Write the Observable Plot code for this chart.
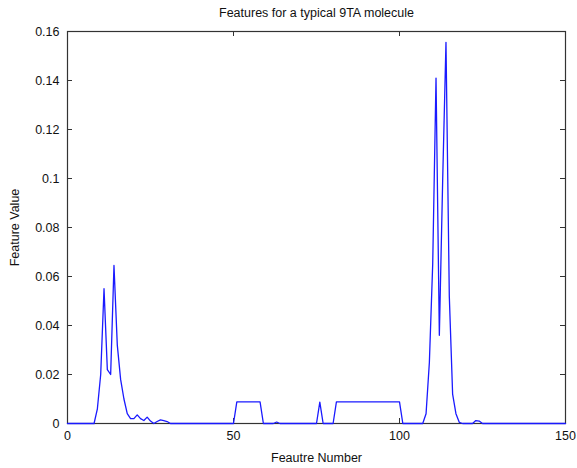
<!DOCTYPE html>
<html>
<head>
<meta charset="utf-8">
<script src="https://cdn.jsdelivr.net/npm/d3@7"></script>
<script src="https://cdn.jsdelivr.net/npm/@observablehq/plot@0.6"></script>
<style>
  html, body { margin: 0; padding: 0; background: #fff; }
</style>
</head>
<body>
<div id="chart"></div>
<script>
// Feature numbers where the value changes (straight segments in between)
const featureNumber = [0, 8, 9, 10, 11, 12, 13, 14, 15, 16, 17, 18, 19, 20, 21, 22, 23, 24, 25, 26, 27, 28, 29, 30, 31,
  50, 51, 58, 59, 62, 63, 64, 75, 76, 77, 80, 81, 100, 101,
  107, 108, 109, 110, 111, 112, 113, 114, 115, 116, 117, 118, 119, 122, 123, 124, 125, 150];
const featureValue = [0, 0, 0.006, 0.02, 0.055, 0.022, 0.02, 0.0645, 0.032, 0.018, 0.01, 0.004, 0.002, 0.002, 0.0035, 0.002, 0.0012, 0.0026, 0.001, 0, 0.0008, 0.0015, 0.0012, 0.0008, 0,
  0, 0.0088, 0.0088, 0, 0, 0.0006, 0, 0, 0.0087, 0, 0, 0.0088, 0.0088, 0,
  0, 0.004, 0.025, 0.065, 0.141, 0.036, 0.099, 0.1556, 0.052, 0.012, 0.004, 0.0005, 0, 0, 0.0012, 0.001, 0, 0];
const xTicks = [0, 50, 100, 150];
const yTicks = [0, 0.02, 0.04, 0.06, 0.08, 0.1, 0.12, 0.14, 0.16];
const title = "Features for a typical 9TA molecule";
const xLabel = "Feautre Number";
const yLabel = "Feature Value";

const data = featureNumber.map((f, i) => ({f, v: featureValue[i]}));

const W = 577, H = 468, mL = 67, mR = 12, mT = 31, mB = 45;
const plotW = W - mL - mR, plotH = H - mT - mB, tk = 5;
const axisColor = "#333";

const chart = Plot.plot({
  width: W, height: H,
  marginLeft: mL, marginRight: mR, marginTop: mT, marginBottom: mB,
  style: {fontFamily: "'Liberation Sans', Arial, Helvetica, sans-serif", fontSize: "12px", background: "#fff", color: "#111", overflow: "visible"},
  x: {domain: [0, 150]},
  y: {domain: [0, 0.16]},
  marks: [
    Plot.axisX(xTicks, {tickSize: 0, tickPadding: 8, label: null, fontSize: 12.5, tickFormat: d => String(d)}),
    Plot.axisY(yTicks, {tickSize: 0, tickPadding: 8, label: null, fontSize: 12.5, tickFormat: d => String(d)}),
    Plot.frame({stroke: axisColor, strokeWidth: 1.2}),
    Plot.tickX(xTicks, {x: d => d, insetTop: plotH - tk, stroke: axisColor}),
    Plot.tickX(xTicks, {x: d => d, insetBottom: plotH - tk, stroke: axisColor}),
    Plot.tickY(yTicks, {y: d => d, insetRight: plotW - tk, stroke: axisColor}),
    Plot.tickY(yTicks, {y: d => d, insetLeft: plotW - tk, stroke: axisColor}),
    Plot.line(data, {x: "f", y: "v", stroke: "#1a1aff", strokeWidth: 1.3}),
    Plot.text([title], {frameAnchor: "top", dy: -19, textAnchor: "middle", lineAnchor: "middle", fontSize: 12.5}),
    Plot.text([xLabel], {frameAnchor: "bottom", dy: 34, textAnchor: "middle", lineAnchor: "middle", fontSize: 12.5}),
    Plot.text([yLabel], {frameAnchor: "left", dx: -53, textAnchor: "middle", lineAnchor: "middle", rotate: -90, fontSize: 12.5})
  ]
});
document.getElementById("chart").appendChild(chart);
</script>
</body>
</html>
